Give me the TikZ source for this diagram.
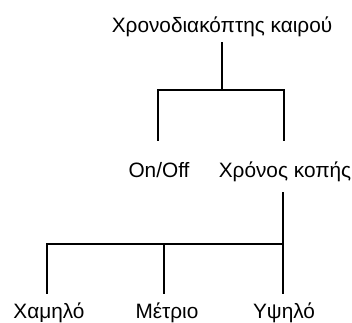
\documentclass[tikz,border=0pt]{standalone}
\usepackage{fontspec}
\setmainfont{Liberation Sans}
\begin{document}
\begin{tikzpicture}[x=1pt,y=-1pt,
  lbl/.style={anchor=base,inner sep=0pt,font=\fontsize{20.8}{24}\selectfont},
  conn/.style={line width=1.7pt,line cap=rect}]
\useasboundingbox (0,0) rectangle (352,322);
% texts
\node[lbl] (top) at (222,32) {Χρονοδιακόπτης καιρού};
\node[lbl] (onoff) at (159,177) {On/Off};
\node[lbl] (xronos) at (285,177) {Χρόνος κοπής};
\node[lbl] (low) at (49,318) {Χαμηλό};
\node[lbl] (mid) at (167,318) {Μέτριο};
\node[lbl] (high) at (284,318) {Υψηλό};
% connector ends
\coordinate (t0) at (222,43);
\coordinate (j0) at (222,90);
\coordinate (e1) at (158,140);
\coordinate (e2) at (284,140);
\coordinate (t1) at (283,193);
\coordinate (j1) at (283,244);
\coordinate (f1) at (47,293);
\coordinate (f2) at (164,293);
\coordinate (f3) at (283,293);
% connectors
\draw[conn] (t0) -- (j0);
\draw[conn] (e1) -- (e1 |- j0) -- (e2 |- j0) -- (e2);
\draw[conn] (t1) -- (f3);
\draw[conn] (f1) -- (f1 |- j1) -- (j1);
\draw[conn] (f2) -- (f2 |- j1);
\end{tikzpicture}
\end{document}
